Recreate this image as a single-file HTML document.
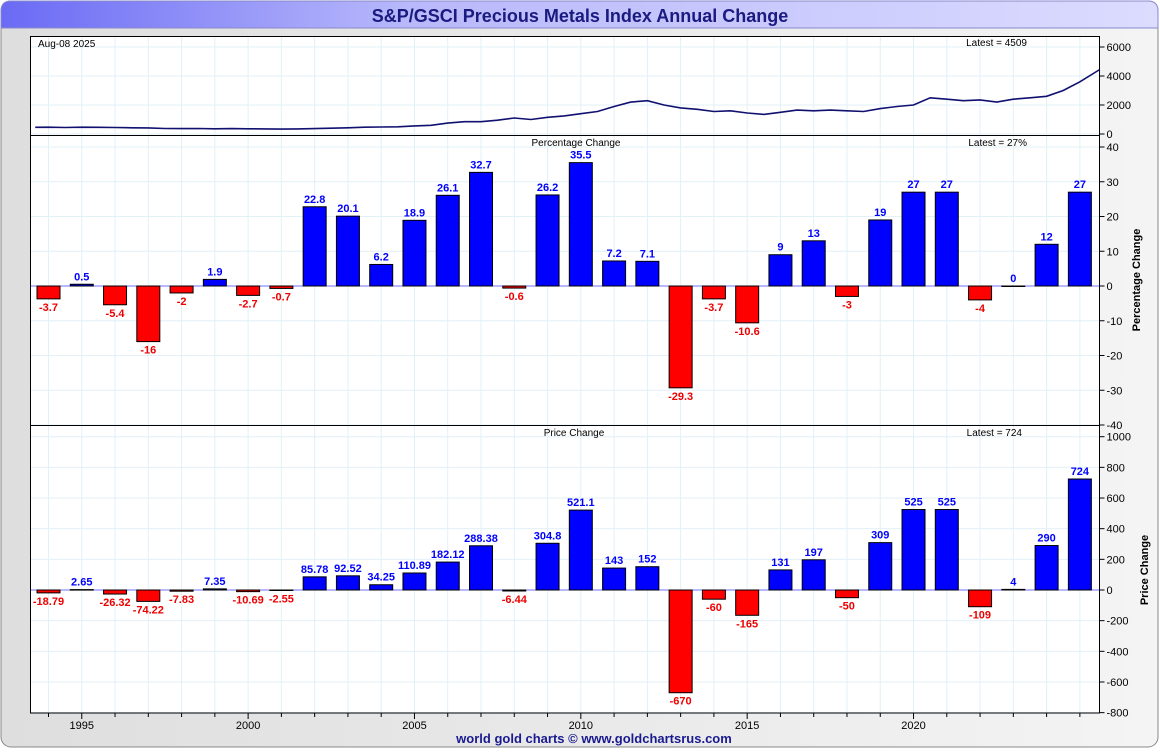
<!DOCTYPE html>
<html><head><meta charset="utf-8"><style>
body{margin:0;background:#fff;font-family:"Liberation Sans",sans-serif}
svg text{font-family:"Liberation Sans",sans-serif}
</style></head><body>
<svg id="c" width="1160" height="750" xmlns="http://www.w3.org/2000/svg">
<defs>
<linearGradient id="tg" x1="0" x2="1"><stop offset="0" stop-color="#6a6af5"/><stop offset="0.35" stop-color="#b8b8fb"/><stop offset="1" stop-color="#dcdcff"/></linearGradient>
<linearGradient id="bg" x1="0" x2="1"><stop offset="0" stop-color="#dedede"/><stop offset="1" stop-color="#f4f4f4"/></linearGradient>
</defs>
<rect x="1" y="1" width="1157" height="746" rx="10" fill="url(#bg)" stroke="#888"/>
<path d="M1 28 V11 Q1 1 11 1 H1148 Q1158 1 1158 11 V28 Z" fill="url(#tg)" stroke="#8888cc"/>
<text x="580" y="22" text-anchor="middle" font-size="18" font-weight="bold" fill="#1a1a80">S&amp;P/GSCI Precious Metals Index Annual Change</text>
<rect x="30.5" y="36.5" width="1069" height="677" fill="#fff"/>
<g id="grid"></g><g id="marks"></g><g id="axes"></g>
<text x="594" y="743" text-anchor="middle" font-size="13" font-weight="bold" fill="#1a1a90">world gold charts © www.goldchartsrus.com</text>
</svg>
<script>
const years=[1994,1995,1996,1997,1998,1999,2000,2001,2002,2003,2004,2005,2006,2007,2008,2009,2010,2011,2012,2013,2014,2015,2016,2017,2018,2019,2020,2021,2022,2023,2024,2025];
const pctChange=[-3.7,0.5,-5.4,-16,-2,1.9,-2.7,-0.7,22.8,20.1,6.2,18.9,26.1,32.7,-0.6,26.2,35.5,7.2,7.1,-29.3,-3.7,-10.6,9,13,-3,19,27,27,-4,0,12,27];
const priceChange=[-18.79,2.65,-26.32,-74.22,-7.83,7.35,-10.69,-2.55,85.78,92.52,34.25,110.89,182.12,288.38,-6.44,304.8,521.1,143,152,-670,-60,-165,131,197,-50,309,525,525,-109,4,290,724];
const priceLabels=["-18.79","2.65","-26.32","-74.22","-7.83","7.35","-10.69","-2.55","85.78","92.52","34.25","110.89","182.12","288.38","-6.44","304.8","521.1","143","152","-670","-60","-165","131","197","-50","309","525","525","-109","4","290","724"];
const idxTimes=[1993.6,1994,1994.5,1995,1995.5,1996,1996.5,1997,1997.5,1998,1998.5,1999,1999.5,2000,2000.5,2001,2001.5,2002,2002.5,2003,2003.5,2004,2004.5,2005,2005.5,2006,2006.5,2007,2007.5,2008,2008.5,2009,2009.5,2010,2010.5,2011,2011.5,2012,2012.5,2013,2013.5,2014,2014.5,2015,2015.5,2016,2016.5,2017,2017.5,2018,2018.5,2019,2019.5,2020,2020.5,2021,2021.5,2022,2022.5,2023,2023.5,2024,2024.5,2025,2025.6];
const idxValues=[460,470,450,470,460,450,430,420,380,370,380,360,370,360,350,340,350,370,400,430,470,480,500,560,600,750,850,850,950,1100,1000,1150,1250,1400,1550,1900,2200,2300,2000,1800,1700,1550,1600,1450,1350,1500,1650,1600,1650,1600,1550,1750,1900,2000,2500,2400,2300,2350,2200,2400,2500,2600,3000,3600,4450];
const pctTicks=[40,30,20,10,0,-10,-20,-30,-40];
const priceTicks=[1000,800,600,400,200,0,-200,-400,-600,-800];
const idxTicks=[6000,4000,2000,0];
const xTickYears=[1995,2000,2005,2010,2015,2020];
const NS="http://www.w3.org/2000/svg";
const X0=30.5,X1=1099.5;
const xs=y=>48.5+(y-1994)*33.27;
const yPct=v=>286-v*3.475;
const yPrice=v=>590-v*0.1533;
const yIdx=v=>134-v*0.0145;
function el(t,a,p){const e=document.createElementNS(NS,t);for(const k in a)e.setAttribute(k,a[k]);document.getElementById(p).appendChild(e);return e;}
for(let y=1994;y<=2025;y++){const g=el('line',{x1:xs(y),x2:xs(y),y1:36.5,y2:713,stroke:'#e2f0f8'},'grid');

}
for(let v=-40;v<=40;v+=10){const g=el('line',{x1:X0,x2:X1,y1:yPct(v),y2:yPct(v),stroke:'#e2f0f8'},'grid');

}
for(let v=-800;v<=1000;v+=200){const g=el('line',{x1:X0,x2:X1,y1:yPrice(v),y2:yPrice(v),stroke:'#e2f0f8'},'grid');

}
for(let v=0;v<=6000;v+=2000){if(yIdx(v)<37)continue;const g=el('line',{x1:X0,x2:X1,y1:yIdx(v),y2:yIdx(v),stroke:'#e2f0f8'},'grid');

}
[yPct(0),yPrice(0)].forEach(y=>{const z=el('line',{x1:X0,x2:X1,y1:y,y2:y,stroke:'#7070ff'},'grid');

});
function bars(vals,labels,yf,name){vals.forEach((v,i)=>{const cx=xs(years[i]);const y0=yf(0),y1=yf(v);
const pos=v>=0;const r=el('rect',{x:cx-11.5,y:Math.min(y0,y1),width:23,height:Math.max(Math.abs(y1-y0),0.5),fill:pos?'#0000ff':'#ff0000',stroke:'#000','stroke-width':1},'marks');


const t=el('text',{x:cx,y:pos?y1-4:y1+12,'text-anchor':'middle','font-size':11,'font-weight':'bold',fill:pos?'#0000ff':'#ee0000'},'marks');
t.textContent=labels[i];

});}
bars(pctChange,pctChange.map(String),yPct,'pct');
bars(priceChange,priceLabels,yPrice,'price');
const pts=idxTimes.map((t,i)=>xs(t).toFixed(1)+','+yIdx(idxValues[i]).toFixed(1)).join(' ');
const pl=el('polyline',{points:pts,fill:'none',stroke:'#101070','stroke-width':1.6},'marks');


function txt(x,y,s,a,sz,name,anchor){const t=el('text',Object.assign({x:x,y:y,'font-size':sz||11,fill:'#000','text-anchor':anchor||'start'},a||{}),'axes');t.textContent=s;

return t;}
const fr=el('rect',{x:X0,y:36.5,width:X1-X0,height:676.5,fill:'none',stroke:'#000'},'axes');


[135.5,425.5].forEach(y=>{const l=el('line',{x1:X0,x2:X1,y1:y,y2:y,stroke:'#000'},'axes');

});
function yaxis(ticks,yf,name){ticks.forEach(v=>{const y=yf(v);const l=el('line',{x1:X1,x2:X1+5,y1:y,y2:y,stroke:'#000'},'axes');


txt(X1+7,y+4,String(v),{},11,name+'-tick-label');});}
yaxis(pctTicks,yPct,'pct-axis');yaxis(priceTicks,yPrice,'price-axis');yaxis(idxTicks,yIdx,'index-axis');
for(let y=1994;y<=2025;y++){const l=el('line',{x1:xs(y),x2:xs(y),y1:713,y2:xTickYears.includes(y)?719:717,stroke:'#000'},'axes');

}
xTickYears.forEach(y=>txt(xs(y),729,String(y),{},11,'x-tick-label','middle'));
txt(38,47,'Aug-08  2025',{},10,'date-label');
txt(1027,46,'Latest = 4509',{},10,'index-latest-label','end');
txt(576,146,'Percentage Change',{},10,'pct-panel-title','middle');
txt(1027,146,'Latest = 27%',{},10,'pct-latest-label','end');
txt(574,436,'Price Change',{},10,'price-panel-title','middle');
txt(1022,436,'Latest = 724',{},10,'price-latest-label','end');
txt(0,0,'Percentage Change',{transform:'translate(1140,280) rotate(-90)','font-size':11,'font-weight':'bold'},11,'pct-axis-title','middle');
txt(0,0,'Price Change',{transform:'translate(1148,570) rotate(-90)','font-size':11,'font-weight':'bold'},11,'price-axis-title','middle');
</script>
</body></html>
